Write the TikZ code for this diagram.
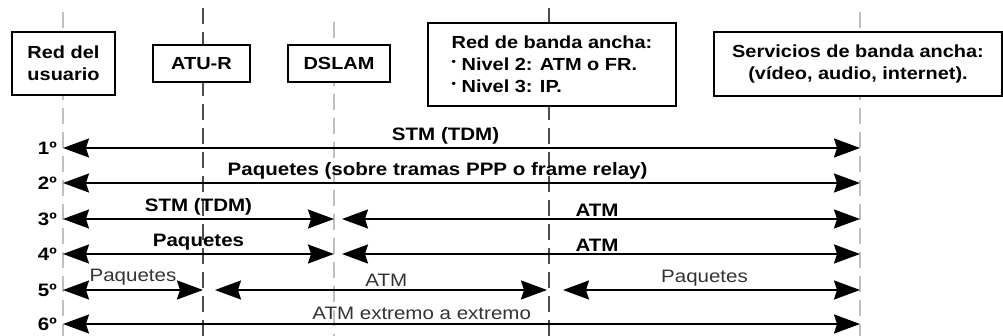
\documentclass[tikz,border=0pt]{standalone}
\usepackage{fontspec}
\setmainfont{Liberation Sans}[FakeStretch=1.14]
\usetikzlibrary{arrows.meta,positioning}

\begin{document}
\begin{tikzpicture}[
  x=1pt, y=-1pt,
  caja/.style={draw, line width=1.4pt, fill=white, inner sep=0pt, align=center, font=\bfseries\fontsize{17.5}{22}\selectfont},
  guia/.style={black!25, line width=1.6pt, dash pattern=on 16pt off 8pt},
  guiaosc/.style={guia, black!70, line width=1.2pt},
  flecha/.style={line width=1.8pt, {Stealth[length=26pt, width=19pt, inset=3pt]}-{Stealth[length=26pt, width=19pt, inset=3pt]}},
  etq/.style={font=\bfseries\fontsize{18}{20}\selectfont, inner sep=1pt},
  etqfina/.style={font=\fontsize{18}{20}\selectfont, black!80, inner sep=1pt},
  fila/.style={font=\bfseries\fontsize{18}{20}\selectfont, anchor=east, inner sep=0pt},
]
  \useasboundingbox (0,0) rectangle (1003,336);

  % columnas
  \coordinate (u) at (63,0);
  \coordinate (a) at (203,0);
  \coordinate (d) at (334,0);
  \coordinate (r) at (549,0);
  \coordinate (s) at (860,0);

  % lineas guia
  \draw[guia] (63,12) -- (63,336);
  \draw[guiaosc] (203,8) -- (203,336);
  \draw[guia] (334,22) -- (334,336);
  \draw[guiaosc] (549,8) -- (549,336);
  \draw[guia] (860,12) -- (860,336);

  % equipos
  \node[caja, minimum width=103pt, minimum height=63pt] (usuario) at (63.5,63.5) {Red del\\usuario};
  \node[caja, minimum width=97pt, minimum height=37pt] (atur) at (201.5,63.5) {ATU-R};
  \node[caja, minimum width=102pt, minimum height=37pt] (dslam) at (339,63.5) {DSLAM};
  \node[caja, minimum width=248pt, minimum height=83pt, align=left] (redba) at (552,64.5)
    {Red de banda ancha:\\\raisebox{0.55ex}{\fontsize{11}{11}\selectfont\textbullet} Nivel 2: ATM o FR.\\\raisebox{0.55ex}{\fontsize{11}{11}\selectfont\textbullet} Nivel 3: IP.};
  \node[caja, minimum width=288pt, minimum height=64pt] (serv) at (858,64)
    {Servicios de banda ancha:\\(vídeo, audio, internet).};

  % filas
  \foreach \i/\y in {1/148, 2/183, 3/219, 4/254, 5/290, 6/324}
    \node[fila] (f\i) at (57,\y) {\i º};

  \draw[flecha] (u|-f1) -- node[etq, above=2pt, pos=.48] {STM (TDM)} (s|-f1);
  \draw[flecha] (u|-f2) -- node[etq, above=2pt, pos=.47] {Paquetes (sobre tramas PPP o frame relay)} (s|-f2);

  \draw[flecha] (u|-f3) -- node[etq, above=2pt] {STM (TDM)} (d|-f3);
  \draw[flecha, shorten <=8pt] (d|-f3) -- node[etq, above=1pt] {ATM} (s|-f3);

  \draw[flecha] (u|-f4) -- node[etq, above=2pt] {Paquetes} (d|-f4);
  \draw[flecha, shorten <=8pt] (d|-f4) -- node[etq, above=1pt] {ATM} (s|-f4);

  \draw[flecha] (u|-f5) -- node[etqfina, above=3pt] {Paquetes} (a|-f5);
  \draw[flecha, shorten <=12pt, shorten >=2pt] (a|-f5) -- node[etqfina, above=2pt, pos=.53] {ATM} (r|-f5);
  \draw[flecha, shorten <=14pt] (r|-f5) -- node[etqfina, above=2pt] {Paquetes} (s|-f5);

  \draw[flecha] (u|-f6) -- node[etqfina, above=2pt, pos=.45] {ATM extremo a extremo} (s|-f6);
\end{tikzpicture}
\end{document}
